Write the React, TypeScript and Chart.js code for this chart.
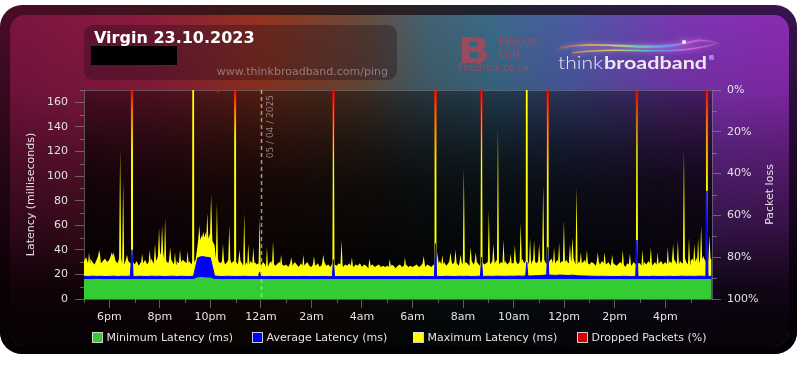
import { useEffect, useRef } from 'react';
import { Chart, registerables } from 'chart.js';

Chart.register(...registerables);

const W = 797;
const H = 367;
const FAMILY = '"DejaVu Sans", "Liberation Sans", sans-serif';
const LABEL_COLOR = '#e2e2e2';
const TICK_COLOR = 'rgba(150,150,150,0.6)';
const AXIS_COLOR = 'rgba(140,140,150,0.55)';

// ---- texts ----
const titleText = 'Virgin 23.10.2023';
const urlText = 'www.thinkbroadband.com/ping';
const leftAxisTitle = 'Latency (milliseconds)';
const rightAxisTitle = 'Packet loss';
const midnightHour = 24;
const midnightLabel = '05 / 04 / 2025';

// ---- axes ----
const startHour = 17;
const endHour = 41.85;
const xTickHours = [17, 18, 19, 20, 21, 22, 23, 24, 25, 26, 27, 28, 29, 30, 31, 32, 33, 34, 35, 36, 37, 38, 39, 40, 41];
const xLabelHours = [18, 20, 22, 24, 26, 28, 30, 32, 34, 36, 38, 40];
const latencyTicks = [0, 10, 20, 30, 40, 50, 60, 70, 80, 90, 100, 110, 120, 130, 140, 150, 160, 170];
const latencyLabels = [0, 20, 40, 60, 80, 100, 120, 140, 160];
const lossTicks = [0, 10, 20, 30, 40, 50, 60, 70, 80, 90, 100];
const lossLabels = [0, 20, 40, 60, 80, 100];

// ---- series ----
const seriesLabels = ['Minimum Latency (ms)', 'Average Latency (ms)', 'Maximum Latency (ms)', 'Dropped Packets (%)'];
const seriesColors = ['#33cc33', '#0000ff', '#ffff00', '#dd0000'];

// maximum latency, every 5 minutes from 17:00
const maxLatency5min = [
  31, 34, 29, 33, 30, 28, 32, 35, 29, 31, 33, 30,
  32, 35, 38, 31, 29, 33, 30, 28, 32, 31, 29, 30,
  28, 31, 27, 30, 29, 32, 28, 30, 33, 29, 31, 34,
  36, 38, 33, 31, 29, 32, 30, 28, 31, 29, 30, 32,
  30, 29, 31, 28, 30, 32, 45, 48, 52, 50, 55, 49,
  53, 47, 44, 33, 30, 29, 31, 28, 30, 32, 29, 31,
  30, 28, 31, 29, 27, 30, 28, 31, 29, 30, 28, 29,
  27, 30, 28, 26, 29, 31, 28, 27, 29, 30, 28, 27,
  28, 26, 29, 27, 30, 28, 26, 29, 27, 28, 30, 27,
  26, 28, 27, 29, 26, 28, 30, 27, 28, 26, 29, 28,
  27, 29, 28, 26, 28, 27, 29, 27, 26, 28, 27, 29,
  26, 28, 27, 25, 27, 28, 26, 27, 28, 26, 27, 26,
  27, 26, 28, 27, 25, 27, 28, 26, 27, 28, 26, 27,
  26, 27, 28, 26, 27, 29, 26, 28, 27, 26, 28, 27,
  29, 31, 28, 30, 27, 29, 31, 28, 30, 29, 27, 30,
  28, 30, 29, 27, 31, 28, 30, 29, 27, 30, 28, 29,
  30, 28, 31, 29, 32, 28, 30, 29, 31, 28, 30, 29,
  29, 31, 28, 30, 33, 29, 31, 30, 28, 32, 30, 29,
  31, 29, 32, 30, 28, 31, 33, 29, 30, 32, 29, 31,
  30, 32, 29, 31, 33, 30, 28, 31, 29, 30, 32, 29,
  28, 30, 29, 27, 30, 28, 31, 29, 28, 30, 27, 29,
  28, 27, 29, 30, 28, 26, 29, 28, 27, 30, 28, 29,
  29, 27, 30, 28, 31, 29, 27, 30, 28, 29, 31, 28,
  30, 28, 31, 29, 32, 30, 28, 31, 29, 33, 30, 28,
  31, 33, 30, 34, 29, 32, 35, 31, 30, 33, 32,
];
const maxSpikeHours = [
  17.2, 17.6, 18.1, 18.43, 18.55, 18.7, 18.9, 19.3, 19.6, 19.81, 19.97, 20.09, 20.21, 20.41, 20.6,
  20.8, 21.1, 21.32, 21.56, 21.72, 21.88, 22.03, 22.26, 22.5, 22.75, 22.98, 23.15, 23.34, 23.5,
  23.7, 23.95, 24.24, 24.48, 24.8, 25.2, 25.68, 26.1, 26.47, 26.87, 27.19, 27.6, 28.3, 29.1, 29.7,
  30.44, 30.91, 30.99, 31.18, 31.5, 31.7, 31.9, 32.03, 32.3, 32.5, 32.73, 33.02, 33.2, 33.38,
  33.6, 33.88, 34.05, 34.28, 34.52, 34.65, 34.81, 35.01, 35.17, 35.35, 35.6, 35.8, 35.99, 36.23,
  36.33, 36.49, 36.66, 36.9, 37.33, 37.6, 37.9, 38.32, 38.6, 38.88, 39.1, 39.43, 39.7, 40.1,
  40.31, 40.5, 40.74, 40.94, 41.15, 41.3, 41.42, 41.65, 41.75,
];
const maxSpikePeaks = [
  38, 40, 38, 122, 97, 36, 999, 37, 40, 45, 58, 60, 66, 42, 38,
  40, 39, 999, 60, 55, 70, 85, 78, 45, 60, 999, 40, 70, 45,
  42, 66, 42, 47, 36, 34, 36, 35, 36, 260, 48, 34, 33, 33, 34,
  35, 999, 38, 36, 38, 40, 36, 107, 42, 38, 260, 72, 45, 140,
  48, 37, 44, 62, 999, 50, 48, 45, 93, 400, 42, 46, 64, 45,
  50, 91, 38, 40, 38, 38, 36, 40, 37, 300, 40, 42, 38, 42,
  45, 48, 122, 50, 45, 50, 60, 999, 52,
];

// average latency, every 10 minutes from 17:00
const avgLatency10min = [
  18.5, 18.3, 18.6, 18.4, 18.5, 18.3,
  18.4, 18.6, 18.3, 18.5, 18.4, 18.6,
  18.3, 18.5, 18.4, 18.3, 18.6, 18.4,
  18.5, 18.3, 18.4, 18.6, 18.3, 18.5,
  18.4, 18.3, 18.5, 33.5, 34.5, 34,
  33.5, 18.8, 18.4, 18.3, 18.5, 18.4,
  18.3, 18.4, 18.5, 18.3, 18.4, 18.2,
  18.3, 18.2, 18.4, 18.3, 18.2, 18.3,
  18.2, 18.3, 18.3, 18.2, 18.4, 18.3,
  18.3, 18.2, 18.3, 18.4, 18.2, 18.3,
  18.2, 18.3, 18.2, 18.3, 18.3, 18.2,
  18.3, 18.2, 18.3, 18.2, 18.3, 18.3,
  18.2, 18.3, 18.3, 18.2, 18.2, 18.3,
  18.3, 18.2, 18.4, 18.3, 18.2, 18.3,
  18.4, 18.3, 18.5, 18.4, 18.3, 18.5,
  18.4, 18.5, 18.3, 18.4, 18.6, 18.4,
  18.5, 18.4, 18.6, 18.5, 18.4, 18.6,
  18.5, 18.7, 18.6, 18.8, 18.7, 18.9,
  19.0, 19.3, 19.5, 19.4, 19.2, 19.5,
  19.3, 19.1, 19.4, 19.0, 18.8, 18.7,
  18.6, 18.5, 18.4, 18.5, 18.4, 18.3,
  18.4, 18.3, 18.5, 18.4, 18.3, 18.4,
  18.3, 18.4, 18.3, 18.5, 18.4, 18.3,
  18.4, 18.5, 18.3, 18.4, 18.6, 18.4,
  18.5, 18.4, 18.6, 18.5, 18.4, 18.5,
];
const avgSpikeHours = [18.9, 23.95, 26.87, 30.91, 32.73, 34.52, 35.35, 38.88, 41.65];
const avgSpikePeaks = [40, 22, 32, 45, 34, 30, 42, 48, 88];

// minimum latency, every 10 minutes from 17:00
const minLatency10min = [
  16.3, 16.2, 16.3, 16.4, 16.3, 16.2,
  16.3, 16.2, 16.3, 16.3, 16.2, 16.3,
  16.2, 16.3, 16.3, 16.2, 16.3, 16.3,
  16.3, 16.2, 16.3, 16.3, 16.2, 16.3,
  16.3, 16.2, 16.3, 17.6, 17.8, 17.5,
  17.4, 16.3, 16.2, 16.3, 16.3, 16.2,
  16.3, 16.2, 16.3, 16.3, 16.2, 16.3,
  16.2, 16.3, 16.3, 16.2, 16.3, 16.2,
  16.3, 16.2, 16.3, 16.3, 16.2, 16.3,
  16.2, 16.3, 16.2, 16.3, 16.3, 16.2,
  16.3, 16.2, 16.3, 16.2, 16.3, 16.3,
  16.2, 16.3, 16.3, 16.2, 16.3, 16.2,
  16.3, 16.2, 16.3, 16.3, 16.2, 16.3,
  16.2, 16.3, 16.2, 16.3, 16.3, 16.2,
  16.3, 16.3, 16.2, 16.3, 16.2, 16.3,
  16.2, 16.3, 16.3, 16.2, 16.3, 16.3,
  16.3, 16.2, 16.3, 16.3, 16.2, 16.3,
  16.2, 16.3, 16.3, 16.2, 16.3, 16.2,
  16.3, 16.2, 16.3, 16.3, 16.2, 16.3,
  16.2, 16.3, 16.2, 16.3, 16.3, 16.2,
  16.3, 16.2, 16.3, 16.2, 16.3, 16.3,
  16.2, 16.3, 16.3, 16.2, 16.3, 16.2,
  16.3, 16.2, 16.3, 16.3, 16.2, 16.3,
  16.2, 16.3, 16.2, 16.3, 16.3, 16.2,
  16.3, 16.2, 16.3, 16.2, 16.3, 16.3,
];

// dropped packets (%)
const lossHours = [18.9, 22.31, 22.98, 26.87, 30.91, 32.73, 35.35, 38.88, 41.65];
const lossPercent = [30, 2, 25, 35, 40, 35, 45, 30, 50];

// ---- helpers ----
function hourLabel(h: number) {
  const hh = ((h % 24) + 24) % 24;
  if (hh === 0) return '12am';
  if (hh === 12) return '12pm';
  return hh < 12 ? `${hh}am` : `${hh - 12}pm`;
}

function bandPoints(values: number[], stepMinutes: number) {
  return values.map((v, i) => ({ x: startHour + (i * stepMinutes) / 60, y: v }));
}

function mergeSpikes(band: { x: number; y: number }[], hours: number[], peaks: number[], half: number) {
  const keep = band.filter((p) => hours.every((h) => Math.abs(p.x - h) >= half));
  const extra: { x: number; y: number }[] = [];
  hours.forEach((h, k) => {
    let base = band[0];
    for (const p of band) if (Math.abs(p.x - h) < Math.abs(base.x - h)) base = p;
    extra.push({ x: h - half, y: base.y }, { x: h, y: peaks[k] }, { x: h + half, y: base.y });
  });
  return keep.concat(extra).sort((a, b) => a.x - b.x);
}

const SPIKE_HALF = 2.5 / 60;
const maxPoints = mergeSpikes(bandPoints(maxLatency5min, 5), maxSpikeHours, maxSpikePeaks, SPIKE_HALF);
const avgPoints = mergeSpikes(bandPoints(avgLatency10min, 10), avgSpikeHours, avgSpikePeaks, SPIKE_HALF);
const minPoints = bandPoints(minLatency10min, 10);
const lossPoints = lossHours.map((h, i) => ({ x: h, y: lossPercent[i] }));

function fitText(ctx: CanvasRenderingContext2D, text: string, x: number, y: number, width: number, font: string) {
  ctx.font = font;
  const w = ctx.measureText(text).width;
  ctx.save();
  ctx.translate(x, y);
  ctx.scale(width / w, 1);
  ctx.fillText(text, 0, 0);
  ctx.restore();
}

function drawBackground(chart: any) {
  const ctx: CanvasRenderingContext2D = chart.ctx;
  const a = chart.chartArea;
  ctx.save();
  ctx.fillStyle = '#ffffff';
  ctx.fillRect(0, 0, W, H);

  // outer frame
  ctx.beginPath();
  (ctx as any).roundRect(0, 5, 797, 349, 22);
  let g = ctx.createLinearGradient(0, 0, W, 0);
  g.addColorStop(0, '#4a0c28');
  g.addColorStop(0.35, '#3a1a14');
  g.addColorStop(0.6, '#1e2430');
  g.addColorStop(1, '#3a1250');
  ctx.fillStyle = g;
  ctx.fill();
  g = ctx.createLinearGradient(0, 5, 0, 354);
  g.addColorStop(0, 'rgba(0,0,0,0)');
  g.addColorStop(0.3, 'rgba(0,0,0,0.3)');
  g.addColorStop(0.8, 'rgba(0,0,0,0.88)');
  g.addColorStop(1, 'rgba(0,0,0,0.95)');
  ctx.fillStyle = g;
  ctx.fill();

  // inner panel
  ctx.save();
  ctx.beginPath();
  (ctx as any).roundRect(10, 15, 779, 331, 15);
  ctx.clip();
  g = ctx.createLinearGradient(10, 0, 789, 0);
  g.addColorStop(0, '#7a1442');
  g.addColorStop(0.18, '#8a1c3c');
  g.addColorStop(0.32, '#92341f');
  g.addColorStop(0.45, '#6a4a38');
  g.addColorStop(0.53, '#44606e');
  g.addColorStop(0.62, '#3a6a88');
  g.addColorStop(0.72, '#4c5aa4');
  g.addColorStop(0.86, '#7a36b2');
  g.addColorStop(1, '#8a2ab0');
  ctx.fillStyle = g;
  ctx.fillRect(10, 15, 779, 331);
  g = ctx.createLinearGradient(0, 15, 0, 346);
  g.addColorStop(0, 'rgba(0,0,0,0)');
  g.addColorStop(0.23, 'rgba(0,0,0,0.1)');
  g.addColorStop(0.41, 'rgba(0,0,0,0.35)');
  g.addColorStop(0.62, 'rgba(0,0,0,0.58)');
  g.addColorStop(0.83, 'rgba(0,0,0,0.88)');
  g.addColorStop(0.92, 'rgba(0,0,0,0.93)');
  g.addColorStop(1, 'rgba(0,0,0,0.94)');
  ctx.fillStyle = g;
  ctx.fillRect(10, 15, 779, 331);
  ctx.restore();

  // title box
  ctx.beginPath();
  (ctx as any).roundRect(84, 25, 313, 55, 9);
  ctx.fillStyle = 'rgba(25,10,25,0.32)';
  ctx.fill();
  ctx.fillStyle = '#ffffff';
  ctx.font = `bold 16px ${FAMILY}`;
  ctx.textBaseline = 'alphabetic';
  ctx.textAlign = 'left';
  ctx.fillText(titleText, 94, 43);
  ctx.fillStyle = '#000000';
  ctx.fillRect(91, 46, 86, 19);
  ctx.fillStyle = 'rgba(200,185,195,0.55)';
  ctx.font = `11px ${FAMILY}`;
  ctx.textAlign = 'right';
  ctx.fillText(urlText, 388, 75);
  ctx.textAlign = 'left';

  // FireBrick mark
  ctx.fillStyle = 'rgba(190,65,85,0.72)';
  fitText(ctx, 'B', 458, 63, 32, `bold 36px ${FAMILY}`);
  fitText(ctx, 'FB6000', 499, 46, 38, `11px ${FAMILY}`);
  fitText(ctx, 'CQM', 499, 58, 21, `11px ${FAMILY}`);
  fitText(ctx, 'FireBrick.co.uk', 458, 71, 72, `10px ${FAMILY}`);

  // thinkbroadband swoosh
  ctx.save();
  const sg = ctx.createLinearGradient(555, 0, 722, 0);
  sg.addColorStop(0, 'rgba(255,120,60,0)');
  sg.addColorStop(0.15, 'rgba(255,140,70,0.85)');
  sg.addColorStop(0.35, 'rgba(240,220,90,0.85)');
  sg.addColorStop(0.5, 'rgba(90,220,170,0.85)');
  sg.addColorStop(0.66, 'rgba(90,160,255,0.85)');
  sg.addColorStop(0.82, 'rgba(230,90,230,0.85)');
  sg.addColorStop(1, 'rgba(255,140,255,0)');
  ctx.strokeStyle = sg;
  ctx.shadowColor = 'rgba(255,220,255,0.6)';
  ctx.shadowBlur = 5;
  ctx.lineWidth = 1.4;
  ctx.beginPath();
  ctx.moveTo(555, 50);
  ctx.bezierCurveTo(600, 36, 640, 56, 690, 42);
  ctx.quadraticCurveTo(706, 38, 722, 45);
  ctx.moveTo(560, 47);
  ctx.bezierCurveTo(610, 40, 652, 53, 700, 40);
  ctx.moveTo(572, 53);
  ctx.bezierCurveTo(622, 45, 662, 58, 716, 44);
  ctx.stroke();
  ctx.shadowBlur = 6;
  ctx.fillStyle = 'rgba(255,240,255,0.95)';
  ctx.beginPath();
  ctx.arc(684, 42, 2, 0, Math.PI * 2);
  ctx.fill();
  ctx.restore();

  ctx.fillStyle = '#ece6f2';
  fitText(ctx, 'think', 558, 69, 45, `300 17px Lato, ${FAMILY}`);
  fitText(ctx, 'broadband', 604, 69, 103, `bold 17px Lato, ${FAMILY}`);
  ctx.font = `7px ${FAMILY}`;
  ctx.fillText('®', 708, 60);

  // plot area shade
  if (a) {
    g = ctx.createLinearGradient(0, a.top, 0, a.bottom);
    g.addColorStop(0, 'rgba(0,0,0,0.38)');
    g.addColorStop(0.45, 'rgba(0,0,0,0.72)');
    g.addColorStop(1, 'rgba(0,0,0,0.85)');
    ctx.fillStyle = g;
    ctx.fillRect(a.left, a.top, a.right - a.left, a.bottom - a.top);
    ctx.strokeStyle = 'rgba(150,150,165,0.45)';
    ctx.lineWidth = 1;
    ctx.beginPath();
    ctx.moveTo(a.left, a.top + 0.5);
    ctx.lineTo(a.right, a.top + 0.5);
    ctx.stroke();
  }
  ctx.restore();
}

function drawMidnight(chart: any) {
  const ctx: CanvasRenderingContext2D = chart.ctx;
  const a = chart.chartArea;
  const px = Math.round(chart.scales.x.getPixelForValue(midnightHour)) + 0.5;
  ctx.save();
  ctx.strokeStyle = 'rgba(200,200,200,0.75)';
  ctx.lineWidth = 1.5;
  ctx.setLineDash([4, 3]);
  ctx.beginPath();
  ctx.moveTo(px, a.top);
  ctx.lineTo(px, a.bottom);
  ctx.stroke();
  ctx.setLineDash([]);
  ctx.translate(px + 9, a.top + 5);
  ctx.rotate(-Math.PI / 2);
  ctx.fillStyle = 'rgba(170,165,170,0.75)';
  ctx.font = `9px ${FAMILY}`;
  ctx.textAlign = 'right';
  ctx.textBaseline = 'middle';
  ctx.fillText(midnightLabel, 0, 0);
  ctx.restore();
}

function drawOverlay(chart: any) {
  const ctx: CanvasRenderingContext2D = chart.ctx;
  const a = chart.chartArea;
  const { x, y, y2 } = chart.scales;
  ctx.save();
  // minor ticks
  ctx.strokeStyle = TICK_COLOR;
  ctx.lineWidth = 1;
  ctx.beginPath();
  xTickHours.filter((h) => !xLabelHours.includes(h)).forEach((h) => {
    const px = Math.round(x.getPixelForValue(h)) + 0.5;
    ctx.moveTo(px, a.bottom);
    ctx.lineTo(px, a.bottom + 4);
  });
  latencyTicks.filter((v) => !latencyLabels.includes(v)).forEach((v) => {
    const py = Math.round(y.getPixelForValue(v)) + 0.5;
    ctx.moveTo(a.left - 4, py);
    ctx.lineTo(a.left, py);
  });
  lossTicks.filter((v) => !lossLabels.includes(v)).forEach((v) => {
    const py = Math.round(y2.getPixelForValue(v)) + 0.5;
    ctx.moveTo(a.right, py);
    ctx.lineTo(a.right + 5, py);
  });
  ctx.stroke();

  // axis titles
  ctx.fillStyle = LABEL_COLOR;
  ctx.font = `11px ${FAMILY}`;
  ctx.textAlign = 'center';
  ctx.textBaseline = 'middle';
  ctx.save();
  ctx.translate(31, (a.top + a.bottom) / 2);
  ctx.rotate(-Math.PI / 2);
  ctx.fillText(leftAxisTitle, 0, 0);
  ctx.restore();
  ctx.save();
  ctx.translate(770, (a.top + a.bottom) / 2);
  ctx.rotate(-Math.PI / 2);
  ctx.fillText(rightAxisTitle, 0, 0);
  ctx.restore();

  // legend
  const legendX = [92, 252, 413, 577];
  ctx.textAlign = 'left';
  ctx.textBaseline = 'middle';
  chart.data.datasets.forEach((ds: any, i: number) => {
    const bx = legendX[i];
    ctx.fillStyle = seriesColors[i];
    ctx.fillRect(bx, 332, 10, 10);
    ctx.strokeStyle = 'rgba(225,225,225,0.9)';
    ctx.lineWidth = 1;
    ctx.strokeRect(bx + 0.5, 332.5, 10, 10);
    ctx.fillStyle = LABEL_COLOR;
    ctx.fillText(ds.label, bx + 14.5, 338);
  });
  ctx.restore();
}

const decorPlugin = {
  id: 'decor',
  beforeDraw: (chart: any) => drawBackground(chart),
  afterDatasetsDraw: (chart: any) => drawMidnight(chart),
  afterDraw: (chart: any) => drawOverlay(chart),
};

export default function App() {
  const ref = useRef<HTMLCanvasElement>(null);
  useEffect(() => {
    document.body.style.margin = '0';
    const canvas = ref.current!;
    const font = { family: FAMILY, size: 11 };
    const chart = new Chart(canvas, {
      type: 'line',
      data: {
        datasets: [
          {
            type: 'line', label: seriesLabels[0], data: minPoints, yAxisID: 'y', order: 1,
            backgroundColor: seriesColors[0], borderColor: 'rgba(0,0,0,0)', borderWidth: 0,
            fill: 'origin', pointRadius: 0, tension: 0,
          },
          {
            type: 'line', label: seriesLabels[1], data: avgPoints, yAxisID: 'y', order: 2,
            backgroundColor: seriesColors[1], borderColor: seriesColors[1], borderWidth: 1,
            fill: 'origin', pointRadius: 0, tension: 0,
          },
          {
            type: 'line', label: seriesLabels[2], data: maxPoints, yAxisID: 'y', order: 3,
            backgroundColor: seriesColors[2], borderColor: 'rgba(0,0,0,0)', borderWidth: 0,
            fill: 'origin', pointRadius: 0, tension: 0,
          },
          {
            type: 'bar', label: seriesLabels[3], data: lossPoints, yAxisID: 'y2', order: 0,
            barThickness: 2, borderWidth: 0,
            backgroundColor: (c: any) => {
              const ch = c.chart;
              const area = ch.chartArea;
              if (!area || !c.parsed) return seriesColors[3];
              const bottom = ch.scales.y2.getPixelForValue(c.parsed.y);
              const g = ch.ctx.createLinearGradient(0, area.top, 0, Math.max(bottom, area.top + 1));
              g.addColorStop(0, 'rgba(225,0,0,0.95)');
              g.addColorStop(0.3, 'rgba(220,20,0,0.6)');
              g.addColorStop(1, 'rgba(220,70,0,0)');
              return g;
            },
          } as any,
        ],
      },
      options: {
        responsive: false,
        animation: false,
        devicePixelRatio: 1,
        events: [],
        layout: { padding: { top: 90, left: 0, right: 0, bottom: 0 } },
        plugins: { legend: { display: false }, tooltip: { enabled: false }, title: { display: false } },
        scales: {
          x: {
            type: 'linear', position: 'bottom', min: startHour, max: endHour, offset: false,
            afterBuildTicks: (s: any) => { s.ticks = xTickHours.map((v) => ({ value: v })); },
            afterFit: (s: any) => { s.height = 68; },
            ticks: {
              autoSkip: false, maxRotation: 0, minRotation: 0, padding: 3, color: LABEL_COLOR, font,
              callback: (v: any) => (xLabelHours.includes(v) ? hourLabel(v) : ''),
            },
            grid: {
              offset: false, drawOnChartArea: false, drawTicks: true, tickLength: 9,
              color: (c: any) => (c.tick && xLabelHours.includes(c.tick.value) ? TICK_COLOR : 'rgba(0,0,0,0)'),
            },
            border: { display: true, color: AXIS_COLOR },
          },
          y: {
            type: 'linear', position: 'left', min: 0, max: 170,
            afterBuildTicks: (s: any) => { s.ticks = latencyTicks.map((v) => ({ value: v })); },
            afterFit: (s: any) => { s.width = 84; },
            ticks: {
              autoSkip: false, padding: 7, color: LABEL_COLOR, font,
              callback: (v: any) => (latencyLabels.includes(v) ? String(v) : ''),
            },
            grid: {
              drawOnChartArea: false, drawTicks: true, tickLength: 9,
              color: (c: any) => (c.tick && latencyLabels.includes(c.tick.value) ? TICK_COLOR : 'rgba(0,0,0,0)'),
            },
            border: { display: true, color: AXIS_COLOR },
          },
          y2: {
            type: 'linear', position: 'right', min: 0, max: 100, reverse: true,
            afterBuildTicks: (s: any) => { s.ticks = lossTicks.map((v) => ({ value: v })); },
            afterFit: (s: any) => { s.width = 85; },
            ticks: {
              autoSkip: false, padding: 6, color: LABEL_COLOR, font,
              callback: (v: any) => (lossLabels.includes(v) ? `${v}%` : ''),
            },
            grid: {
              drawOnChartArea: false, drawTicks: true, tickLength: 9,
              color: (c: any) => (c.tick && lossLabels.includes(c.tick.value) ? TICK_COLOR : 'rgba(0,0,0,0)'),
            },
            border: { display: true, color: AXIS_COLOR },
          },
        },
      } as any,
      plugins: [decorPlugin],
    });
    return () => chart.destroy();
  }, []);
  return (
    <div style={{ width: W, height: H }}>
      <canvas ref={ref} width={W} height={H} style={{ display: 'block', width: W, height: H }} />
    </div>
  );
}
